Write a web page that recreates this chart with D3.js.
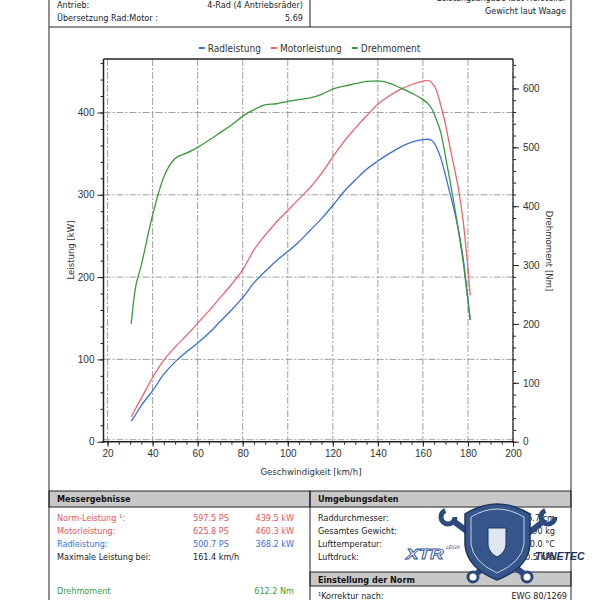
<!DOCTYPE html>
<html>
<head>
<meta charset="utf-8">
<script src="https://cdn.jsdelivr.net/npm/d3@7"></script>
<style>
  body { margin: 0; background: #fff; }
  svg { display: block; font-family: "DejaVu Sans Condensed", "DejaVu Sans", sans-serif; font-stretch: condensed; }
</style>
</head>
<body>
<div id="chart"></div>
<script>
// speed in km/h, shared by all three curves
const speed = [30.5, 32, 35, 40, 45, 50, 55, 60, 65, 70, 75, 80, 85, 90, 95, 100, 105, 110, 115, 120,
  125, 130, 135, 140, 145, 150, 155, 160, 162, 164, 166, 168, 170, 172, 174, 176, 178, 180, 181];
// kW
const radleistung = [25, 31, 44, 62, 82, 97, 109, 120, 132, 146, 160, 175, 193, 207, 220, 231, 243, 257, 271, 287,
  304, 318, 331, 341, 350, 358, 364, 367, 367.5, 366, 358, 344, 324, 302, 280, 254, 220, 172, 148];
const motorleistung = [30, 38, 53, 78, 99, 115, 129, 144, 159, 175, 191, 209, 233, 251, 267, 281, 295, 309, 326, 346,
  365, 381, 396, 410, 420, 428, 434, 438, 439, 436, 427, 408, 386, 358, 332, 304, 265, 210, 178];
// Nm
const drehmoment = [200, 252, 300, 385, 450, 481, 490, 500, 512, 525, 538, 553, 564, 572, 574, 578, 581, 584, 590, 599,
  604, 608, 612, 613, 609, 601, 592, 581, 575, 565, 547, 524, 485, 444, 400, 353, 302, 240, 207];

const speedTicks = [20, 40, 60, 80, 100, 120, 140, 160, 180, 200];
const kwTicks = [0, 100, 200, 300, 400];
const nmTicks = [0, 100, 200, 300, 400, 500, 600];

const seriesNames = ['Radleistung', 'Motorleistung', 'Drehmoment'];
const seriesColors = ['#3a6fd6', '#e8666c', '#3a9a3a'];

const headerLeft = [['Antrieb:', '4-Rad (4 Antriebsräder)'], ['Übersetzung Rad:Motor :', '5.69']];
const resultRows = [
  ['Norm-Leistung ¹:', '597.5 PS', '439.5 kW', '#e3585c'],
  ['Motorleistung:', '625.8 PS', '460.3 kW', '#e3585c'],
  ['Radleistung:', '500.7 PS', '368.2 kW', '#3a6fd6'],
  ['Maximale Leistung bei:', '161.4 km/h', '', '#222'],
  ['', '', '', '#222'],
  ['Drehmoment', '', '612.2 Nm', '#3a9a3a']
];
const ambientRows = [
  ['Raddurchmesser:', '66.7 cm'],
  ['Gesamtes Gewicht:', '2190 kg'],
  ['Lufttemperatur:', '20.0 °C'],
  ['Luftdruck:', '1020.5 hPa']
];

const W = 595, H = 600;
const svg = d3.select('#chart').append('svg').attr('width', W).attr('height', H);

const frameL = 49, frameR = 571, midX = 310;
const plotL = 103.5, plotR = 513, plotT = 59, plotB = 441.7;

const x = d3.scaleLinear().domain([18.2, 200]).range([plotL, plotR]);
const yKw = d3.scaleLinear().domain([0, 465]).range([plotB, plotT]);
const yNm = d3.scaleLinear().domain([0, 650]).range([plotB, plotT]);

// frame + header
const line = (x1, y1, x2, y2, w) => svg.append('line')
  .attr('x1', x1).attr('y1', y1).attr('x2', x2).attr('y2', y2)
  .attr('stroke', '#222').attr('stroke-width', w || 1);

headerLeft.forEach((r, i) => {
  svg.append('text').attr('x', 57).attr('y', 8 + i * 13).attr('font-size', 9).attr('fill', '#222').text(r[0]);
  svg.append('text').attr('x', 303).attr('y', 8 + i * 13).attr('font-size', 9).attr('fill', '#222')
    .attr('text-anchor', 'end').text(r[1]);
});
svg.append('text').attr('x', 566).attr('y', 1).attr('font-size', 9).attr('fill', '#222')
  .attr('text-anchor', 'end').text('Leistungsangabe laut Hersteller');
svg.append('text').attr('x', 566).attr('y', 14).attr('font-size', 9).attr('fill', '#222')
  .attr('text-anchor', 'end').text('Gewicht laut Waage');

// grid
const grid = svg.append('g').attr('stroke', '#a0a0a0').attr('stroke-width', 1).attr('stroke-dasharray', '7,2,2,2');
grid.selectAll('.gx').data(speedTicks).enter().append('line')
  .attr('x1', d => x(d)).attr('x2', d => x(d)).attr('y1', plotT).attr('y2', plotB);
grid.selectAll('.gy').data(kwTicks).enter().append('line')
  .attr('y1', d => yKw(d) - (d === 0 ? 2 : 0)).attr('y2', d => yKw(d) - (d === 0 ? 2 : 0))
  .attr('x1', plotL).attr('x2', plotR);

// curves
const curves = [radleistung, motorleistung, drehmoment];
curves.forEach((vals, i) => {
  const yS = i === 2 ? yNm : yKw;
  const gen = d3.line().x((d, j) => x(speed[j])).y(d => yS(d)).curve(d3.curveMonotoneX);
  svg.append('path').datum(vals).attr('d', gen)
    .attr('fill', 'none').attr('stroke', seriesColors[i]).attr('stroke-width', 1.3);
});

// axes
const styleAxis = g => {
  g.select('.domain').remove();
  g.selectAll('line').attr('stroke', '#222');
  g.selectAll('text').attr('fill', '#333').attr('font-size', 10).attr('font-family', null);
};
svg.append('g').attr('transform', `translate(${plotL},0)`)
  .call(d3.axisLeft(yKw).tickValues(d3.range(0, 461, 20)).tickSize(3).tickFormat(''))
  .call(styleAxis);
svg.append('g').attr('transform', `translate(${plotL},0)`)
  .call(d3.axisLeft(yKw).tickValues(kwTicks).tickSize(6).tickPadding(3))
  .call(styleAxis);
svg.append('g').attr('transform', `translate(${plotR},0)`)
  .call(d3.axisRight(yNm).tickValues(d3.range(0, 641, 20)).tickSize(3).tickFormat(''))
  .call(styleAxis);
svg.append('g').attr('transform', `translate(${plotR},0)`)
  .call(d3.axisRight(yNm).tickValues(nmTicks).tickSize(6).tickPadding(4))
  .call(styleAxis);
svg.append('g').attr('transform', `translate(0,${plotB})`)
  .call(d3.axisBottom(x).tickValues(d3.range(20, 201, 5)).tickSize(3).tickFormat(''))
  .call(styleAxis);
svg.append('g').attr('transform', `translate(0,${plotB})`)
  .call(d3.axisBottom(x).tickValues(speedTicks).tickSize(5).tickPadding(3))
  .call(styleAxis);

line(plotL, plotT, plotL, plotB + 1, 1.5);
line(plotL, plotB, plotR, plotB, 1.5);
line(plotL, plotT, plotR, plotT, 1.5);
line(plotR, plotT, plotR, plotB + 1, 1.2);

// axis titles
svg.append('text').attr('x', 311).attr('y', 475).attr('text-anchor', 'middle')
  .attr('font-size', 9.5).attr('fill', '#333').text('Geschwindigkeit [km/h]');
svg.append('text').attr('transform', 'translate(74,250) rotate(-90)')
  .attr('text-anchor', 'middle').attr('font-size', 9.5).attr('fill', '#333').text('Leistung [kW]');
svg.append('text').attr('transform', 'translate(546,251) rotate(90)')
  .attr('text-anchor', 'middle').attr('font-size', 9.5).attr('fill', '#333').text('Drehmoment [Nm]');

// legend
const legend = svg.append('g');
let lx = 0;
seriesNames.forEach((n, i) => {
  legend.append('line').attr('x1', lx).attr('x2', lx + 6).attr('y1', 48).attr('y2', 48)
    .attr('stroke', seriesColors[i]).attr('stroke-width', 2);
  const t = legend.append('text').attr('x', lx + 9).attr('y', 51.5).attr('font-size', 10).attr('fill', '#333').text(n);
  lx += 9 + t.node().getComputedTextLength() + 10;
});
legend.attr('transform', `translate(${309.5 - (lx - 10) / 2},0)`);

// tables
const bar = (x1, x2, y1, y2, label) => {
  svg.append('rect').attr('x', x1).attr('y', y1).attr('width', x2 - x1).attr('height', y2 - y1)
    .attr('fill', '#c8c8c8').attr('stroke', '#222').attr('stroke-width', 1);
  svg.append('text').attr('x', x1 + 8).attr('y', y1 + 11).attr('font-size', 9).attr('font-weight', 'bold')
    .attr('fill', '#111').text(label);
};
bar(frameL, midX, 491, 507, 'Messergebnisse');
bar(midX, frameR, 491, 507, 'Umgebungsdaten');
bar(midX, frameR, 572, 586, 'Einstellung der Norm');

resultRows.forEach((r, i) => {
  const yy = 520.5 + i * 13 + (i === 5 ? 8 : 0);
  svg.append('text').attr('x', 57).attr('y', yy).attr('font-size', 9).attr('fill', r[3]).text(r[0]);
  svg.append('text').attr('x', 193).attr('y', yy).attr('font-size', 9).attr('fill', r[3]).text(r[1]);
  svg.append('text').attr('x', 294).attr('y', yy).attr('font-size', 9).attr('fill', r[3])
    .attr('text-anchor', 'end').text(r[2]);
});
ambientRows.forEach((r, i) => {
  const yy = 520.5 + i * 13;
  svg.append('text').attr('x', 318).attr('y', yy).attr('font-size', 9).attr('fill', '#222').text(r[0]);
  svg.append('text').attr('x', 555).attr('y', yy).attr('font-size', 9).attr('fill', '#222')
    .attr('text-anchor', 'end').text(r[1]);
});
svg.append('text').attr('x', 318).attr('y', 599).attr('font-size', 9).attr('fill', '#222').text('¹Korrektur nach:');
svg.append('text').attr('x', 567).attr('y', 599).attr('font-size', 9).attr('fill', '#222')
  .attr('text-anchor', 'end').text('EWG 80/1269');

line(frameL, 27, frameR, 27);
line(midX, 0, midX, 27);
line(midX, 491, midX, H);
line(frameL, 0, frameL, H);
line(frameR, 0, frameR, H);

// logo (rough)
const logo = svg.append('g');
logo.append('line').attr('x1', 452).attr('y1', 520).attr('x2', 524).attr('y2', 574)
  .attr('stroke', '#2d4a7c').attr('stroke-width', 6);
logo.append('line').attr('x1', 545).attr('y1', 520).attr('x2', 476).attr('y2', 574)
  .attr('stroke', '#2d4a7c').attr('stroke-width', 6);
[[448, 517], [548, 517]].forEach(p => logo.append('circle').attr('cx', p[0]).attr('cy', p[1]).attr('r', 7)
  .attr('fill', 'none').attr('stroke', '#2d4a7c').attr('stroke-width', 5).attr('stroke-dasharray', '30,14'));
[[473, 577], [527, 577]].forEach(p => logo.append('circle').attr('cx', p[0]).attr('cy', p[1]).attr('r', 5)
  .attr('fill', '#fff').attr('stroke', '#2d4a7c').attr('stroke-width', 3));
logo.append('path')
  .attr('d', 'M465,514 Q497,494 530,514 L530,545 Q528,568 497,580 Q467,568 465,545 Z')
  .attr('fill', '#36558a').attr('stroke', '#1e3560').attr('stroke-width', 1.5);
logo.append('path')
  .attr('d', 'M471,517 Q497,501 524,517 L524,544 Q522,562 497,573 Q473,562 471,544 Z')
  .attr('fill', 'none').attr('stroke', '#c9d3e6').attr('stroke-width', 1);
logo.append('path')
  .attr('d', 'M488,528 L506,528 L506,545 Q505,553 497,557 Q489,553 488,545 Z')
  .attr('fill', '#dfe6f2').attr('stroke', '#1e3560').attr('stroke-width', 1);
logo.append('text').attr('transform', 'translate(406,559) scale(1.25,1)').attr('font-size', 15)
  .attr('font-style', 'italic').attr('font-weight', 'bold').attr('fill', '#fff')
  .attr('stroke', '#2a4f9a').attr('stroke-width', 0.8).attr('font-family', 'Liberation Sans').text('XTR');
logo.append('text').attr('x', 446).attr('y', 549).attr('font-size', 5).attr('font-style', 'italic')
  .attr('fill', '#2a4f9a').text('LEIGH');
logo.append('text').attr('x', 535).attr('y', 560).attr('font-size', 10.5).attr('font-style', 'italic')
  .attr('font-weight', 'bold').attr('fill', '#1f2f55').attr('font-family', 'Liberation Sans')
  .text('TUNETEC');
</script>
</body>
</html>
